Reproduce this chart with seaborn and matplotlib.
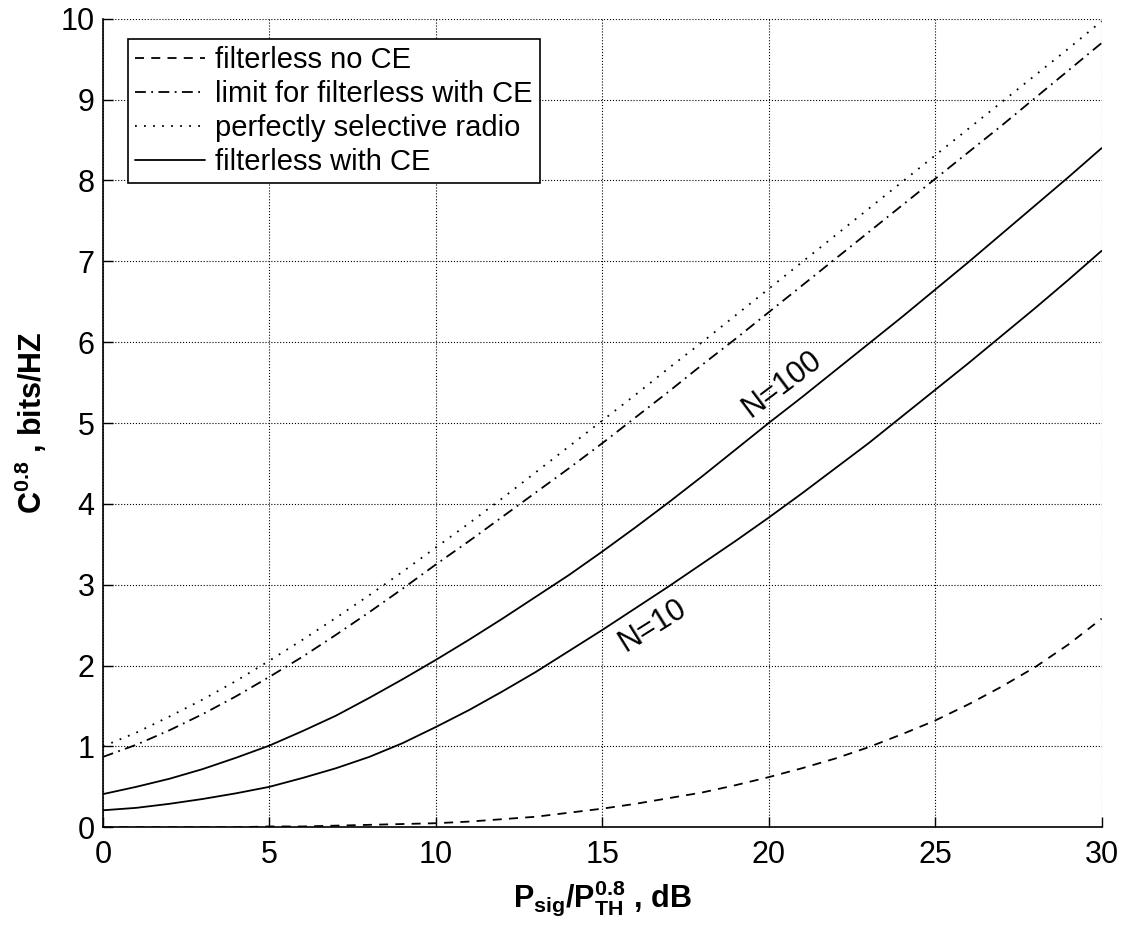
import matplotlib
matplotlib.use("Agg")
import matplotlib.pyplot as plt
import seaborn as sns

# valores (cada 1 dB)
snr_db = list(range(31))
no_ce = [0.00, 0.00, 0.00, 0.00, 0.00, 0.01, 0.01, 0.02, 0.03, 0.04, 0.05,
         0.07, 0.10, 0.13, 0.18, 0.23, 0.29, 0.36, 0.43, 0.52, 0.62,
         0.73, 0.85, 0.99, 1.15, 1.32, 1.52, 1.74, 1.98, 2.26, 2.58]
limit_ce = [0.87, 1.02, 1.20, 1.40, 1.62, 1.86, 2.11, 2.38, 2.66, 2.95, 3.25,
            3.54, 3.84, 4.14, 4.44, 4.75, 5.07, 5.39, 5.72, 6.04, 6.37,
            6.70, 7.03, 7.36, 7.69, 8.02, 8.35, 8.68, 9.02, 9.36, 9.70]
perfect = [1.00, 1.17, 1.37, 1.58, 1.81, 2.06, 2.32, 2.59, 2.87, 3.16, 3.46,
           3.76, 4.07, 4.39, 4.71, 5.03, 5.35, 5.68, 6.00, 6.33, 6.66,
           6.99, 7.32, 7.65, 7.98, 8.31, 8.64, 8.97, 9.30, 9.63, 9.97]
ce_n100 = [0.41, 0.50, 0.60, 0.72, 0.86, 1.01, 1.19, 1.38, 1.60, 1.83, 2.07,
           2.32, 2.58, 2.85, 3.12, 3.41, 3.71, 4.02, 4.34, 4.67, 5.00,
           5.32, 5.65, 5.98, 6.31, 6.65, 6.99, 7.34, 7.69, 8.04, 8.40]
ce_n10 = [0.21, 0.24, 0.29, 0.35, 0.42, 0.50, 0.61, 0.73, 0.87, 1.04, 1.24,
          1.45, 1.68, 1.92, 2.18, 2.44, 2.71, 2.98, 3.26, 3.54, 3.83,
          4.13, 4.44, 4.75, 5.08, 5.41, 5.74, 6.08, 6.42, 6.77, 7.13]

x_ticks = [0, 5, 10, 15, 20, 25, 30]
y_ticks = list(range(11))

sns.set_style("ticks")
plt.rcParams["font.family"] = ["Liberation Sans", "DejaVu Sans"]
plt.rcParams["mathtext.fontset"] = "custom"
plt.rcParams["mathtext.rm"] = "Liberation Sans"
plt.rcParams["mathtext.bf"] = "Liberation Sans:bold"
plt.rcParams["mathtext.it"] = "Liberation Sans:italic"
for key in ["text.color", "axes.labelcolor", "xtick.color", "ytick.color"]:
    plt.rcParams[key] = "black"

fig, ax = plt.subplots(figsize=(11.31, 9.39), dpi=100)
fig.subplots_adjust(left=0.091, right=0.974, bottom=0.119, top=0.980)

# --- curvas ---
sns.lineplot(x=snr_db, y=no_ce, ax=ax, color="black", lw=1.3,
             linestyle=(0, (5, 4)), label="filterless no CE")
sns.lineplot(x=snr_db, y=limit_ce, ax=ax, color="black", lw=1.3,
             linestyle=(0, (6, 3, 1, 3)), label="limit for filterless with CE")
sns.lineplot(x=snr_db, y=perfect, ax=ax, color="black", lw=1.3,
             linestyle=(0, (1, 4)), label="perfectly selective radio")
sns.lineplot(x=snr_db, y=ce_n100, ax=ax, color="black", lw=1.3,
             linestyle="-", label="filterless with CE")
sns.lineplot(x=snr_db, y=ce_n10, ax=ax, color="black", lw=1.3, linestyle="-")

ax.text(20.4, 5.48, "N=100", rotation=37, ha="center", va="center",
        fontsize=22, rotation_mode="anchor")
ax.text(16.5, 2.5, "N=10", rotation=32, ha="center", va="center",
        fontsize=22, rotation_mode="anchor")

# --- ejes ---
ax.set_xlim(0, 30)
ax.set_ylim(0, 10)
ax.set_xticks(x_ticks)
ax.set_yticks(y_ticks)
ax.grid(True, linestyle=":", color="black", linewidth=0.8)
ax.set_axisbelow(True)
ax.tick_params(direction="in", length=7, width=1, labelsize=22)
ax.tick_params(axis="x", pad=9)
ax.tick_params(axis="y", pad=6)
sns.despine(ax=ax)
for side in ["left", "bottom"]:
    ax.spines[side].set_linewidth(1.2)
    ax.spines[side].set_color("black")

ax.set_xlabel(r"$\mathbf{P_{sig}/P_{TH}^{0.8}}$ , dB", fontsize=22,
              fontweight="bold", labelpad=6)
ax.set_ylabel(r"$\mathbf{C^{0.8}}$ , bits/HZ", fontsize=22,
              fontweight="bold", labelpad=8)

leg = ax.legend(loc="upper left", bbox_to_anchor=(0.025, 0.975), frameon=True,
                fancybox=False, edgecolor="black", framealpha=1, fontsize=21,
                handlelength=2.4, handletextpad=0.35, labelspacing=0.2,
                borderpad=0.25, borderaxespad=0)
leg.get_frame().set_linewidth(1.2)

plt.savefig("out.png", dpi=100)
